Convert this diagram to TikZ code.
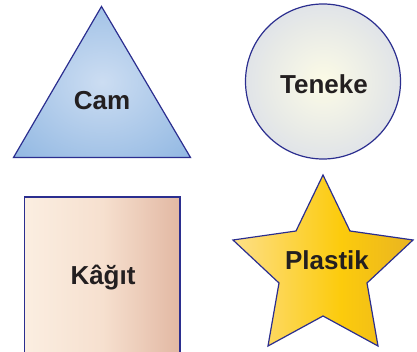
\documentclass[tikz,border=0pt]{standalone}
\usepackage{fontspec}
\setmainfont{Liberation Sans}
\definecolor{edge}{HTML}{2B2E8F}
\definecolor{txt}{HTML}{231F20}
\definecolor{triin}{HTML}{CCDDF2}
\definecolor{triout}{HTML}{8AB3E0}
\definecolor{cirA}{HTML}{FCFBE6}
\definecolor{cirB}{HTML}{DDE1E8}
\definecolor{cirC}{HTML}{DAD8D6}
\definecolor{sqA}{HTML}{FBEEE1}
\definecolor{sqB}{HTML}{F6E0CF}
\definecolor{sqC}{HTML}{E2B8A3}
\definecolor{stA}{HTML}{FDDF88}
\definecolor{stB}{HTML}{FCCB0C}
\definecolor{stC}{HTML}{E9B422}
\pgfdeclareradialshading{trishade}{\pgfpoint{0bp}{0bp}}{color(0bp)=(triin); color(40bp)=(triout); color(60bp)=(triout)}
\pgfdeclareradialshading{cirshade}{\pgfpoint{0bp}{0bp}}{color(0bp)=(cirA); color(28bp)=(cirB); color(46bp)=(cirC); color(50bp)=(cirC)}
\pgfdeclarehorizontalshading{sqshade}{100bp}{color(0bp)=(sqA); color(25bp)=(sqA); color(50bp)=(sqB); color(75bp)=(sqC); color(100bp)=(sqC)}
\pgfdeclarehorizontalshading{stshade}{100bp}{color(0bp)=(stA); color(25bp)=(stA); color(55bp)=(stB); color(75bp)=(stC); color(100bp)=(stC)}
\tikzset{
  shapeline/.style={draw=edge, line width=1.2pt, line join=miter},
  label/.style={font=\bfseries\fontsize{26}{30}\selectfont, text=txt, inner sep=0pt}
}
\begin{document}
\begin{tikzpicture}[x=1pt,y=-1pt]
\useasboundingbox (0,0) rectangle (417,352);
% triangle
\path[shapeline, shading=trishade] (101.5,6.5) -- (190.5,157.5) -- (13.5,157.5) -- cycle;
\node[label] (cam) at (102,101) {Cam};
% circle
\path[shapeline, shading=cirshade] (323,81.5) circle (77.5);
\node[label] (teneke) at (324,84) {Teneke};
% square
\path[shapeline, shading=sqshade] (24.5,197) rectangle (180,354);
\node[label] (kagit) at (103,278) {Kâğıt};
% star
\path[shapeline, shading=stshade] (323,175) -- (350,231) -- (413,240) -- (367,283) -- (378,346) -- (323,316) -- (268,346) -- (279,283) -- (233,240) -- (296,231) -- cycle;
\node[label] (plastik) at (327,260) {Plastik};
\end{tikzpicture}
\end{document}
